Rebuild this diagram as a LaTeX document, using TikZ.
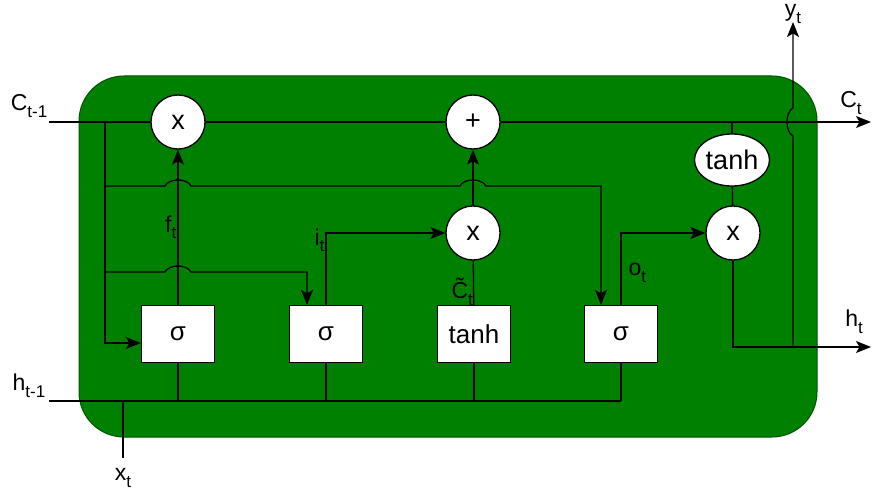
\documentclass[tikz,border=0pt]{standalone}
\usepackage{fontspec}
\setmainfont{Liberation Sans}
\usetikzlibrary{arrows.meta,shapes.geometric}
\definecolor{cellgreen}{RGB}{0,128,0}
\definecolor{celledge}{RGB}{0,84,0}
\newcommand{\GateBox}[3]{
	\node[gate] (#1) at (#2,334) {#3};
}
\newcommand{\PointOp}[4]{
	\node[op] (#1) at (#2,#3) {#4};
}
% small hop of a horizontal line over a vertical one
\newcommand{\HopH}[2]{ -- (#1-13,#2) .. controls +(4,-8) and +(-4,-8) .. (#1+13,#2) }
\newcommand{\Sub}[1]{\raisebox{-0.3em}{\fontsize{17}{19}\selectfont #1}}

\begin{document}
\begin{tikzpicture}[x=1pt,y=-1pt,line width=1.3pt,
	>={Stealth[length=15pt,width=12pt,inset=3.5pt]},
	cellbody/.style={fill=cellgreen,draw=celledge,line width=1pt,rounded corners=45pt},
	gate/.style={draw,fill=white,minimum width=73pt,minimum height=57pt,inner sep=0pt,font=\fontsize{26}{30}\selectfont},
	op/.style={draw,fill=white,circle,minimum size=54pt,inner sep=0pt,font=\fontsize{27}{30}\selectfont},
	lbl/.style={font=\fontsize{23}{26}\selectfont,inner sep=1pt}]
	\useasboundingbox (0,0) rectangle (873,492);
	\draw[cellbody] (79,76) rectangle (817,437);

	\GateBox{sigF}{178}{σ}
	\GateBox{sigI}{326}{σ}
	\GateBox{tanhG}{474}{tanh}
	\GateBox{sigO}{621}{σ}
	\PointOp{mulF}{178}{122}{x}
	\PointOp{add}{473}{122}{+}
	\PointOp{mulI}{473}{233}{x}
	\PointOp{mulO}{733}{233}{x}
	\node[op,ellipse,minimum width=75pt,minimum height=52pt] (tanhC) at (732,160) {tanh};

	\coordinate (cin) at (49,122);
	\coordinate (cout) at (871,122);
	\coordinate (hin) at (49,401);
	\coordinate (hout) at (871,347);
	\coordinate (xin) at (123,458);
	\coordinate (yout) at (793,22);
	\coordinate (tap) at (105,122);
	%\node at (tap) {T};

	% cell state
	\draw (cin) -- (mulF);
	\draw (mulF) -- (add);
	\draw[->] (add) -- (cout);

	% forget gate
	\draw[->] (tap) |- ([yshift=-9pt]sigF.west);
	\draw[->] (sigF) -- (mulF) node[midway,left,lbl] {f\Sub{t}};
	\draw[->] (105,272) \HopH{178}{272} -| ([xshift=-19pt]sigI.north);
	\draw[->] (105,186) \HopH{178}{186} \HopH{473}{186} -| ([xshift=-20pt]sigO.north);

	% input gate
	\draw[->] (sigI.north) |- (mulI.west) node[pos=0.45,left,lbl] {i\Sub{t}};
	\draw (tanhG) -- (mulI) node[pos=0.3,left,lbl,inner sep=0pt] {\accent"02DC C\Sub{t}};
	\draw[->] (mulI) -- (add);

	% output gate
	\draw[->] (sigO.north) |- (mulO.west) node[pos=0.22,right,lbl,xshift=6pt] {o\Sub{t}};
	\draw (mulO) -- (tanhC);
	\draw (tanhC) -- (tanhC |- cin);
	\draw[->] (mulO) |- (hout);
	\draw[->] (yout |- hout) -- (793,136) .. controls +(-8,-4) and +(-8,4) .. (793,108) -- (yout);

	% hidden state and input
	\draw (hin) -- (hin -| sigO.south);
	\foreach \g in {sigF,sigI,tanhG,sigO}
		\draw (\g.south) -- (\g.south |- hin);
	\draw (xin) -- (xin |- hin);

	\node[lbl] (lCprev) at (29,106) {C\Sub{t-1}};
	\node[lbl] (lhprev) at (29,386) {h\Sub{t-1}};
	\node[lbl] (lx) at (123,478) {x\Sub{t}};
	\node[lbl] (lC) at (851,103) {C\Sub{t}};
	\node[lbl] (lh) at (854,322) {h\Sub{t}};
	\node[lbl] (ly) at (793,14) {y\Sub{t}};
\end{tikzpicture}
\end{document}
